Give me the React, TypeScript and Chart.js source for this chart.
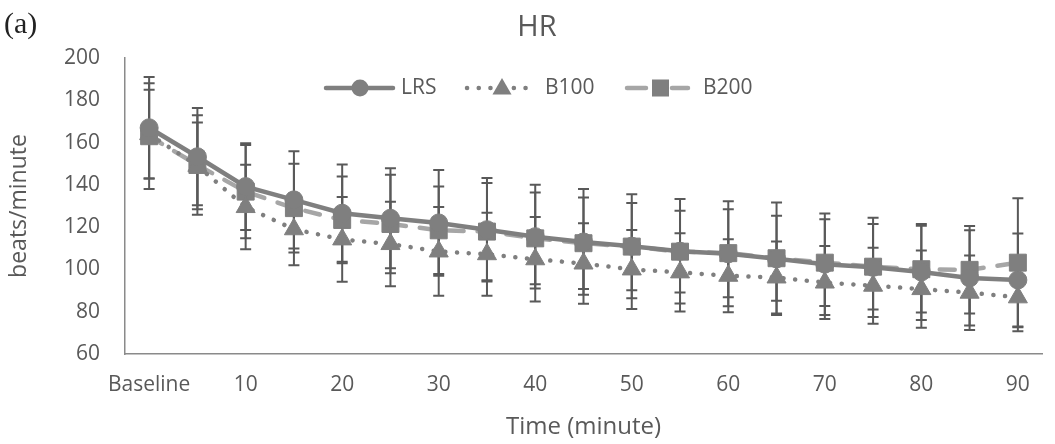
import React, { useEffect, useRef } from 'react';
import { Chart, registerables } from 'chart.js';

Chart.register(...registerables);

const categories = ['Baseline', '5', '10', '15', '20', '25', '30', '35', '40', '45', '50', '55', '60', '65', '70', '75', '80', '85', '90'];
const shownTickLabels = ['Baseline', '10', '20', '30', '40', '50', '60', '70', '80', '90'];

const lrsMean = [167, 153.3, 139.2, 132.9, 126.6, 124.2, 122, 118.8, 115.5, 113, 111, 108.6, 107.4, 105, 102.5, 101, 98.8, 96, 95];
const lrsSD = [24, 23, 20.5, 23, 23, 23.6, 25, 24.5, 24.5, 25, 24.6, 24.7, 24.8, 26.6, 24, 23.5, 22.7, 22.5, 22];

const b100Mean = [164, 149, 129.5, 119, 114.2, 112, 108.5, 107.2, 104.8, 102.8, 100, 98.6, 97, 96.2, 93.8, 92.3, 90.7, 89, 86.8];
const b100SD = [21, 20.5, 20, 17, 20, 20, 21, 19.6, 20, 19, 18.7, 18.5, 17.3, 17, 17.3, 18, 18.3, 17.6, 16];

const b200Mean = [163, 149.4, 136.8, 129, 123.4, 121.5, 118.5, 117.9, 114.7, 112.4, 110.8, 108.4, 107.7, 105.3, 103.2, 101.3, 100.1, 99.8, 103.2];
const b200SD = [25, 23.5, 22, 21, 20.5, 23.3, 20.7, 23, 21.7, 21.6, 20.6, 19.3, 20.8, 20.1, 20.5, 20.2, 20.5, 20.7, 30.5];

const FONT = '"Open Sans", "Noto Sans", sans-serif';
const TEXT = '#595959';
const MARK = '#7f7f7f';
const LIGHT = '#a6a6a6';
const ERR = '#595959';

const errorBarPlugin = {
  id: 'errorBars',
  beforeDatasetsDraw(chart: any) {
    const { ctx } = chart;
    const yScale = chart.scales.y;
    ctx.save();
    ctx.strokeStyle = ERR;
    ctx.lineWidth = 2;
    chart.data.datasets.forEach((ds: any, i: number) => {
      const sd: number[] = ds.errors;
      if (!sd) return;
      const meta = chart.getDatasetMeta(i);
      meta.data.forEach((pt: any, j: number) => {
        const v = ds.data[j];
        const x = pt.x;
        const yt = yScale.getPixelForValue(v + sd[j]);
        const yb = yScale.getPixelForValue(v - sd[j]);
        ctx.beginPath();
        ctx.moveTo(x, yt);
        ctx.lineTo(x, yb);
        ctx.moveTo(x - 5.5, yt);
        ctx.lineTo(x + 5.5, yt);
        ctx.moveTo(x - 5.5, yb);
        ctx.lineTo(x + 5.5, yb);
        ctx.stroke();
      });
    });
    ctx.restore();
  },
};

function drawTriangle(ctx: CanvasRenderingContext2D, x: number, y: number, r: number) {
  ctx.beginPath();
  ctx.moveTo(x, y - r);
  ctx.lineTo(x + r * Math.sin((2 * Math.PI) / 3), y + r / 2);
  ctx.lineTo(x - r * Math.sin((2 * Math.PI) / 3), y + r / 2);
  ctx.closePath();
  ctx.fill();
}

const decorPlugin = {
  id: 'decor',
  afterDraw(chart: any) {
    const { ctx } = chart;
    ctx.save();
    // panel tag
    ctx.fillStyle = '#222222';
    ctx.font = '30px "Liberation Serif", "DejaVu Serif", serif';
    ctx.textAlign = 'left';
    ctx.textBaseline = 'middle';
    ctx.fillText('(a)', 4, 25);
    // title
    ctx.fillStyle = TEXT;
    ctx.font = `29px ${FONT}`;
    ctx.textAlign = 'center';
    ctx.fillText('HR', 537, 28);

    // legend
    const ly = 88;
    ctx.font = `21px ${FONT}`;
    ctx.textAlign = 'left';
    ctx.lineCap = 'round';
    // LRS
    ctx.strokeStyle = MARK;
    ctx.lineWidth = 4.5;
    ctx.setLineDash([]);
    ctx.beginPath();
    ctx.moveTo(326, ly);
    ctx.lineTo(393, ly);
    ctx.stroke();
    ctx.fillStyle = MARK;
    ctx.beginPath();
    ctx.arc(360, ly, 8.5, 0, Math.PI * 2);
    ctx.fill();
    ctx.fillStyle = TEXT;
    ctx.fillText('LRS', 401, ly);
    // B100
    ctx.strokeStyle = MARK;
    ctx.lineWidth = 4.5;
    ctx.setLineDash([0.1, 11.6]);
    ctx.beginPath();
    ctx.moveTo(467, ly);
    ctx.lineTo(532, ly);
    ctx.stroke();
    ctx.setLineDash([]);
    ctx.fillStyle = MARK;
    drawTriangle(ctx, 502, ly + 1, 11);
    ctx.fillStyle = TEXT;
    ctx.fillText('B100', 545, ly);
    // B200
    ctx.strokeStyle = LIGHT;
    ctx.lineWidth = 4.5;
    ctx.beginPath();
    ctx.moveTo(627, ly);
    ctx.lineTo(646, ly);
    ctx.moveTo(672, ly);
    ctx.lineTo(688, ly);
    ctx.stroke();
    ctx.fillStyle = MARK;
    ctx.fillRect(652, ly - 8.5, 17, 17);
    ctx.fillStyle = TEXT;
    ctx.fillText('B200', 703, ly);
    ctx.restore();
  },
};

export default function App() {
  const canvasRef = useRef<HTMLCanvasElement | null>(null);

  useEffect(() => {
    if (!canvasRef.current) return;
    const chart = new Chart(canvasRef.current, {
      type: 'line',
      data: {
        labels: categories,
        datasets: [
          {
            label: 'LRS',
            data: lrsMean,
            errors: lrsSD,
            borderColor: MARK,
            borderWidth: 4.5,
            pointStyle: 'circle',
            pointRadius: 9,
            pointBackgroundColor: MARK,
            pointBorderColor: MARK,
            pointBorderWidth: 1,
            tension: 0,
          } as any,
          {
            label: 'B100',
            data: b100Mean,
            errors: b100SD,
            borderColor: MARK,
            borderWidth: 4.5,
            borderDash: [0.1, 11.6],
            borderCapStyle: 'round',
            pointStyle: 'triangle',
            pointRadius: 11,
            pointBackgroundColor: MARK,
            pointBorderColor: MARK,
            pointBorderWidth: 1,
            tension: 0,
          } as any,
          {
            label: 'B200',
            data: b200Mean,
            errors: b200SD,
            borderColor: LIGHT,
            borderWidth: 4.5,
            borderDash: [15, 14],
            borderCapStyle: 'round',
            pointStyle: 'rect',
            pointRadius: 12,
            pointBackgroundColor: MARK,
            pointBorderColor: MARK,
            pointBorderWidth: 1,
            tension: 0,
          } as any,
        ],
      },
      options: {
        animation: false,
        responsive: false,
        layout: { padding: { top: 58, right: 0, bottom: 0, left: 0 } },
        plugins: {
          legend: { display: false },
          title: { display: false },
          tooltip: { enabled: false },
        },
        scales: {
          x: {
            type: 'category',
            offset: true,
            grid: { display: false, drawTicks: false },
            border: { display: true, color: '#8a8a8a', width: 1.5 },
            ticks: {
              autoSkip: false,
              maxRotation: 0,
              padding: 18,
              color: TEXT,
              font: { family: FONT, size: 21 },
              callback: (_v: any, i: number) =>
                shownTickLabels.includes(categories[i]) ? categories[i] : '',
            },
            title: {
              display: true,
              text: 'Time (minute)',
              color: TEXT,
              font: { family: FONT, size: 24 },
              padding: { top: 4, bottom: 2 },
            },
            afterFit: (s: any) => {
              s.height = 90;
            },
          },
          y: {
            min: 60,
            max: 200,
            grid: { display: false, drawTicks: false },
            border: { display: true, color: '#8a8a8a', width: 1.5 },
            ticks: {
              stepSize: 20,
              padding: 25,
              color: TEXT,
              font: { family: FONT, size: 21 },
            },
            title: {
              display: true,
              text: 'beats/minute',
              color: TEXT,
              font: { family: FONT, size: 23 },
              padding: { top: 6, bottom: 4 },
            },
            afterFit: (s: any) => {
              s.width = 125;
            },
          },
        },
      } as any,
      plugins: [errorBarPlugin, decorPlugin],
    });
    return () => chart.destroy();
  }, []);

  return (
    <div style={{ position: 'fixed', left: 0, top: 0, width: 1055, height: 444, background: '#fff' }}>
      <canvas ref={canvasRef} width={1055} height={444} style={{ display: 'block' }} />
    </div>
  );
}
